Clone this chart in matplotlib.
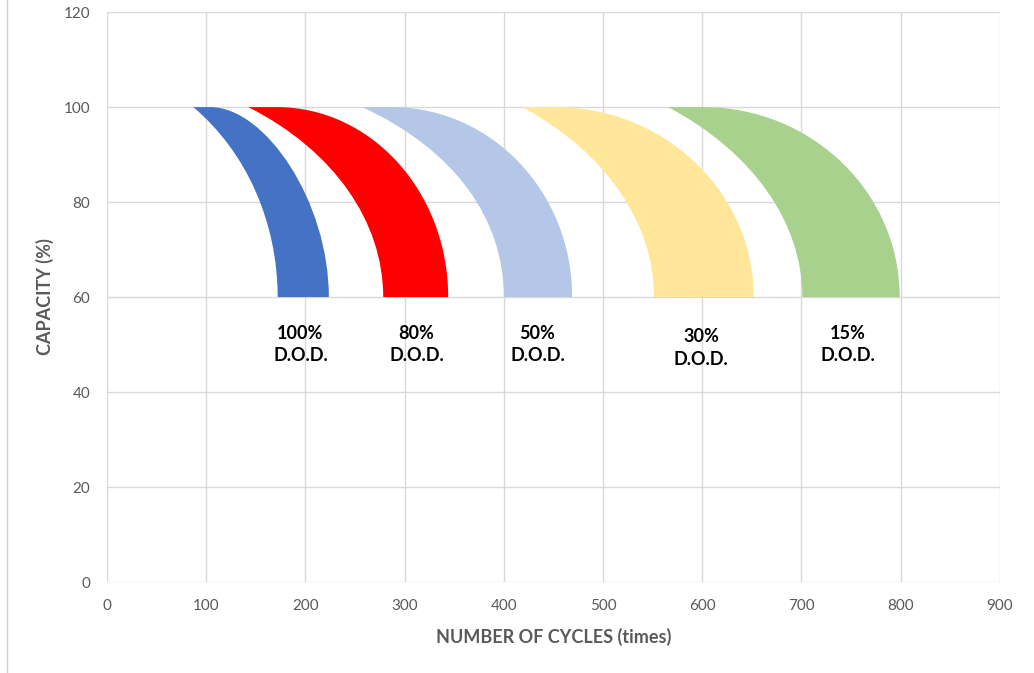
import matplotlib.pyplot as plt
from matplotlib.lines import Line2D
from matplotlib.path import Path
from matplotlib.patches import PathPatch

# each band is bounded by two curved edges, given as cubic Bezier control
# points (cycles, capacity %)
outer_100 = [(104, 100), (160, 100), (223.6, 80), (223.6, 60)]
inner_100 = [(172, 60), (172, 75.7), (140.5, 90.6), (86.9, 100)]
outer_80 = [(171, 100), (266.5, 100), (343.9, 82.1), (343.9, 60)]
inner_80 = [(278.4, 60), (278.4, 75.7), (229.5, 90.8), (142.4, 100)]
outer_50 = [(286.8, 100), (387.4, 100), (468.9, 82.1), (468.9, 60)]
inner_50 = [(400, 60), (400, 76.5), (350.5, 91), (257.3, 100)]
outer_30 = [(451.4, 100), (562.1, 100), (651.9, 82.1), (651.9, 60)]
inner_30 = [(551.4, 60), (551.4, 75.7), (502.2, 90.6), (418.5, 100)]
outer_15 = [(600.8, 100), (710.3, 100), (799, 82.1), (799, 60)]
inner_15 = [(700.9, 60), (700.9, 75.7), (650.7, 90.6), (565.5, 100)]

dod_labels = ['100%', '80%', '50%', '30%', '15%']
label_x = [195, 312, 434, 599, 747]
label_y = [50, 50, 50, 49.3, 50]

x_ticks = [0, 100, 200, 300, 400, 500, 600, 700, 800, 900]
y_ticks = [0, 20, 40, 60, 80, 100, 120]

band_colors = ['#4472C4', '#FF0000', '#B4C7E7', '#FFE699', '#A9D18E']
outer_edges = [outer_100, outer_80, outer_50, outer_30, outer_15]
inner_edges = [inner_100, inner_80, inner_50, inner_30, inner_15]

plt.rcParams['font.family'] = ['Lato', 'DejaVu Sans']

fig = plt.figure(figsize=(10.34, 6.73), dpi=100)
ax = fig.add_axes([0.1035, 0.1352, 0.8635, 0.8468])

codes = ([Path.MOVETO] + [Path.CURVE4] * 3 + [Path.LINETO]
         + [Path.CURVE4] * 3 + [Path.CLOSEPOLY])
for outer, inner, col in zip(outer_edges, inner_edges, band_colors):
    verts = list(outer) + list(inner) + [outer[0]]
    ax.add_patch(PathPatch(Path(verts, codes), facecolor=col,
                           edgecolor='none', zorder=3))

for lab, lx, ly in zip(dod_labels, label_x, label_y):
    ax.text(lx, ly, lab + '\nD.O.D.', ha='center', va='center', fontsize=13,
            fontweight='bold', color='black', linespacing=1.4, zorder=4)

ax.set_xlim(0, 900)
ax.set_ylim(0, 120)
ax.set_xticks(x_ticks)
ax.set_yticks(y_ticks)
ax.grid(True, color='#d9d9d9', linewidth=1.0, zorder=0)
ax.set_axisbelow(True)
for s in ax.spines.values():
    s.set_visible(False)
ax.tick_params(length=0, labelsize=11, labelcolor='#595959', pad=12)

ax.set_xlabel('NUMBER OF CYCLES (times)', fontsize=13, fontweight='bold',
              color='#595959', labelpad=11)
ax.set_ylabel('CAPACITY (%)', fontsize=13, fontweight='bold',
              color='#595959', labelpad=7)

# faint page border on the left
fig.add_artist(Line2D([0.0068, 0.0068], [0, 1], transform=fig.transFigure,
                      color='#d0d0d0', linewidth=1.0))

fig.savefig('out.png', dpi=100)
